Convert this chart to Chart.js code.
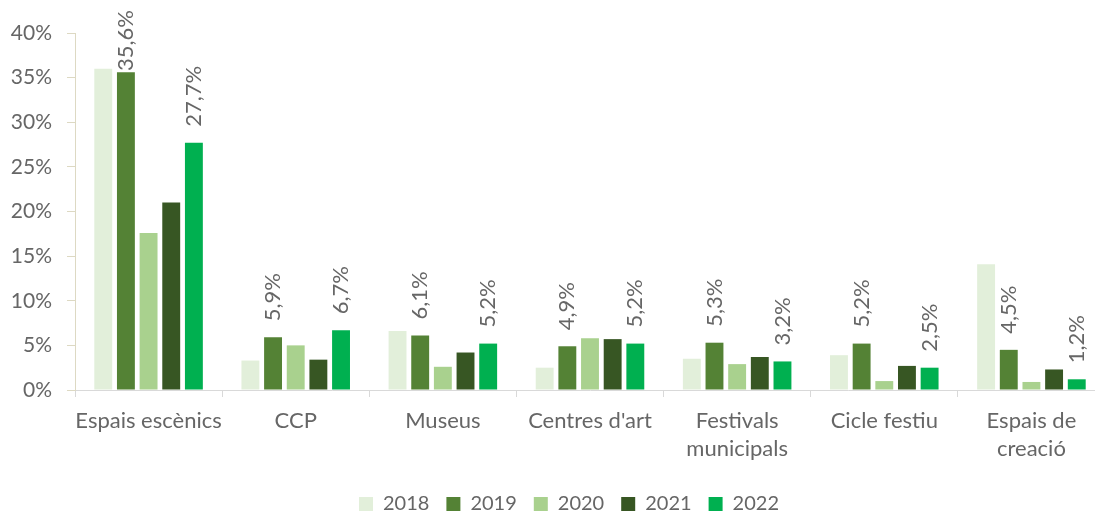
<!DOCTYPE html>
<html>
<head>
<meta charset="utf-8">
<script src="https://cdn.jsdelivr.net/npm/chart.js@4/dist/chart.umd.min.js"></script>
<style>
  html, body { margin: 0; padding: 0; overflow: hidden; background: #fff; }
  #wrap { width: 1105px; height: 512px; }
</style>
</head>
<body>
<div id="wrap"><canvas id="c" width="1105" height="512"></canvas></div>
<script>
// Share of activity by type of venue, 2018–2022 (%)
const categories = ['Espais escènics', 'CCP', 'Museus', "Centres d'art", ['Festivals', 'municipals'], 'Cicle festiu', ['Espais de', 'creació']];
const years = ['2018', '2019', '2020', '2021', '2022'];
const v2018 = [36.0, 3.3, 6.6, 2.5, 3.5, 3.9, 14.1];
const v2019 = [35.6, 5.9, 6.1, 4.9, 5.3, 5.2, 4.5];
const v2020 = [17.6, 5.0, 2.6, 5.8, 2.9, 1.0, 0.9];
const v2021 = [21.0, 3.4, 4.2, 5.7, 3.7, 2.7, 2.3];
const v2022 = [27.7, 6.7, 5.2, 5.2, 3.2, 2.5, 1.2];
const yearColors = ['#E2EFDA', '#548235', '#A9D18E', '#375623', '#00B050'];
const labelledYears = ['2019', '2022'];
const yMax = 40;
const yStep = 5;

const seriesValues = [v2018, v2019, v2020, v2021, v2022];
const textColor = '#666666';
const fontFamily = 'Lato, "Open Sans", sans-serif';

// Rotated value labels above the bars of selected years
const valueLabels = {
  id: 'valueLabels',
  afterDatasetsDraw(chart) {
    const ctx = chart.ctx;
    chart.data.datasets.forEach((ds, i) => {
      if (!labelledYears.includes(ds.label)) return;
      const meta = chart.getDatasetMeta(i);
      meta.data.forEach((bar, j) => {
        const text = ds.data[j].toFixed(1).replace('.', ',') + '%';
        ctx.save();
        ctx.font = '22px ' + fontFamily;
        const w = ctx.measureText(text).width;
        let base = bar.y - 16;
        if (base - w < 10) base = w + 10;
        ctx.translate(bar.x, base);
        ctx.rotate(-Math.PI / 2);
        ctx.textAlign = 'left';
        ctx.textBaseline = 'middle';
        ctx.fillStyle = textColor;
        ctx.fillText(text, 0, 0);
        ctx.restore();
      });
    });
  }
};

// Centre the legend row under the plot rather than the whole canvas
const legendOffset = {
  id: 'legendOffset',
  afterLayout(chart) {
    if (chart.legend) chart.legend.left += 33;
  }
};

new Chart(document.getElementById('c'), {
  type: 'bar',
  data: {
    labels: categories,
    datasets: years.map((y, i) => ({
      label: y,
      data: seriesValues[i],
      backgroundColor: yearColors[i],
      borderWidth: 0,
      categoryPercentage: 0.77,
      barPercentage: 0.79
    }))
  },
  options: {
    responsive: false,
    animation: false,
    devicePixelRatio: 1,
    layout: { padding: { top: 33, left: 0, right: 0, bottom: -12 } },
    plugins: {
      legend: {
        position: 'bottom',
        labels: {
          boxWidth: 14,
          boxHeight: 14,
          padding: 17,
          color: textColor,
          font: { family: fontFamily, size: 20 }
        }
      },
      tooltip: { enabled: false }
    },
    scales: {
      x: {
        grid: { offset: true, drawOnChartArea: false, drawTicks: true, tickLength: 7, color: '#D9D9D9' },
        border: { color: '#D9D9D9' },
        ticks: {
          color: textColor,
          padding: 10,
          maxRotation: 0,
          autoSkip: false,
          font: { family: fontFamily, size: 22, lineHeight: 1.27 }
        },
        afterFit(scale) { scale.height = 87; }
      },
      y: {
        min: 0,
        max: yMax,
        grid: { drawOnChartArea: false, drawTicks: true, tickLength: 8, color: '#DDD9C3' },
        border: { color: '#DDD9C3' },
        ticks: {
          stepSize: yStep,
          color: textColor,
          padding: 15,
          font: { family: fontFamily, size: 21 },
          callback: (v) => v + '%'
        },
        afterFit(scale) { scale.width = 75; }
      }
    }
  },
  plugins: [valueLabels, legendOffset]
});
</script>
</body>
</html>
